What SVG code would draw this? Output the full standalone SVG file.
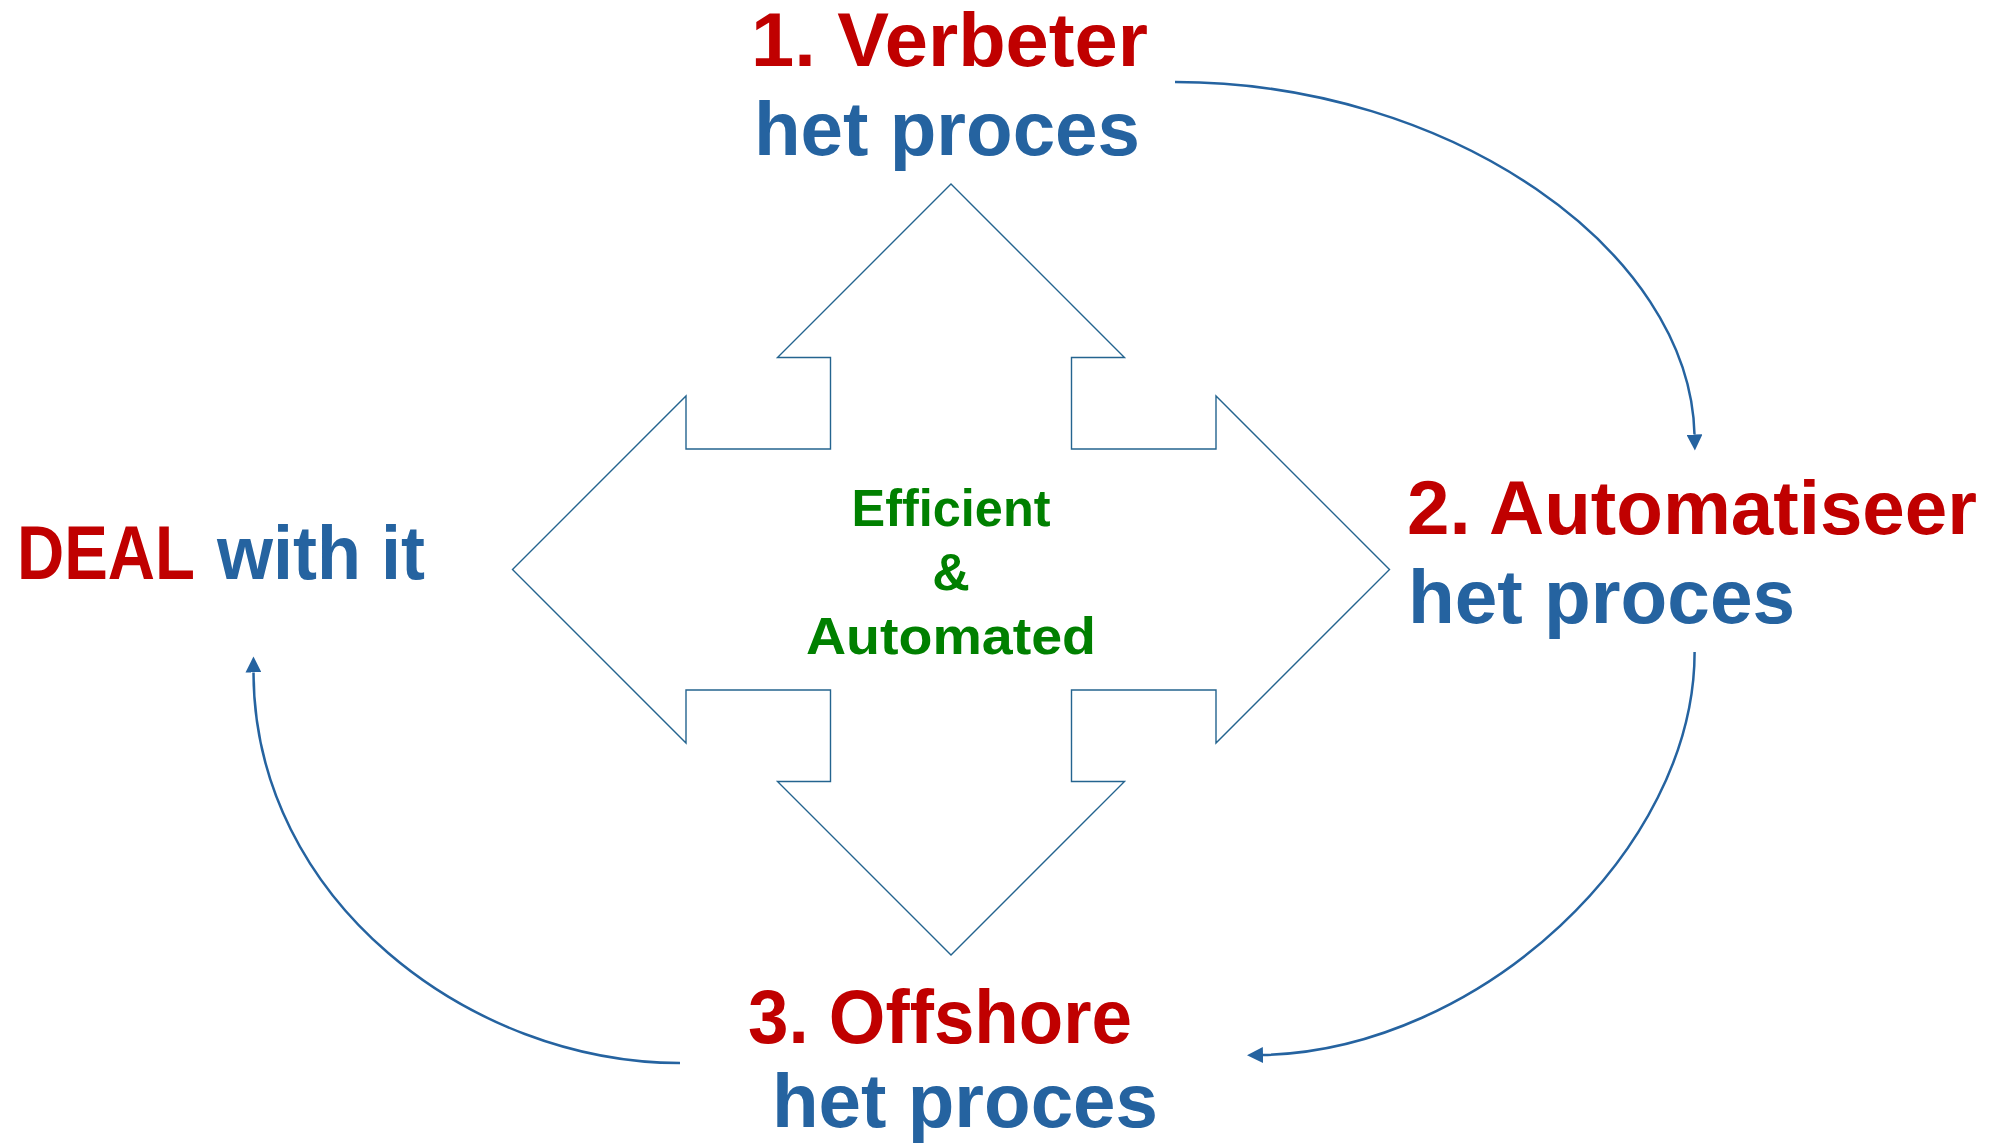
<svg xmlns="http://www.w3.org/2000/svg" width="1998" height="1144" viewBox="0 0 1998 1144">
  <style>
    .lbl { font-family: "Liberation Sans", Arial, sans-serif; font-weight: bold; font-size: 76px; }
    .red { fill: #C00000; }
    .blue { fill: #2563A0; }
    .green { font-family: "Liberation Sans", Arial, sans-serif; font-weight: bold; font-size: 52px; fill: #008000; text-anchor: middle; }
    .conn { fill: none; stroke: #2563A0; stroke-width: 2.5; marker-end: url(#arrow); }
    .quad { fill: #FFFFFF; stroke: #24648F; stroke-width: 1.4; stroke-linejoin: miter; }
  </style>
  <defs>
    <marker id="arrow" markerUnits="userSpaceOnUse" markerWidth="16" markerHeight="16" refX="0" refY="8" orient="auto" viewBox="0 0 16 16">
      <path d="M0,0 L16,8 L0,16 Z" fill="#2563A0"/>
    </marker>
  </defs>
  <rect width="1998" height="1144" fill="#FFFFFF"/>

  <g id="connectors">
    <path class="conn" d="M1175,82 C1450,82 1690,250 1694.5,434.5"/>
    <path class="conn" d="M1694.6,652 C1694.6,850 1480,1050 1263,1055"/>
    <path class="conn" d="M680,1063 C470,1063 254,900 253.5,672.5"/>
  </g>

  <g id="node-center">
    <path class="quad" d="M951,184 L1124.5,357.5 L1071.5,357.5 L1071.5,449 L1216,449 L1216,396 L1389.5,569.5 L1216,743 L1216,690 L1071.5,690 L1071.5,781.5 L1124.5,781.5 L951,955 L777.5,781.5 L830.5,781.5 L830.5,690 L686,690 L686,743 L512.5,569.5 L686,396 L686,449 L830.5,449 L830.5,357.5 L777.5,357.5 Z"/>
    <text class="green" x="951" y="526" textLength="199" lengthAdjust="spacingAndGlyphs">Efficient</text>
    <text class="green" x="951" y="589.5">&amp;</text>
    <text class="green" x="951" y="653.5" textLength="290" lengthAdjust="spacingAndGlyphs">Automated</text>
  </g>

  <g id="node-verbeter">
    <text class="lbl red" x="751" y="66" textLength="397" lengthAdjust="spacingAndGlyphs">1. Verbeter</text>
    <text class="lbl blue" x="754" y="154.5" textLength="386" lengthAdjust="spacingAndGlyphs">het proces</text>
  </g>

  <g id="node-automatiseer">
    <text class="lbl red" x="1407" y="534" textLength="570" lengthAdjust="spacingAndGlyphs">2. Automatiseer</text>
    <text class="lbl blue" x="1408" y="623" textLength="387" lengthAdjust="spacingAndGlyphs">het proces</text>
  </g>

  <g id="node-offshore">
    <text class="lbl red" x="748" y="1043" textLength="384" lengthAdjust="spacingAndGlyphs">3. Offshore</text>
    <text class="lbl blue" x="772" y="1127" textLength="386" lengthAdjust="spacingAndGlyphs">het proces</text>
  </g>

  <g id="node-deal">
    <text class="lbl red" x="17" y="579" textLength="178" lengthAdjust="spacingAndGlyphs">DEAL</text>
    <text class="lbl blue" x="217" y="579" textLength="208" lengthAdjust="spacingAndGlyphs">with it</text>
  </g>
</svg>
